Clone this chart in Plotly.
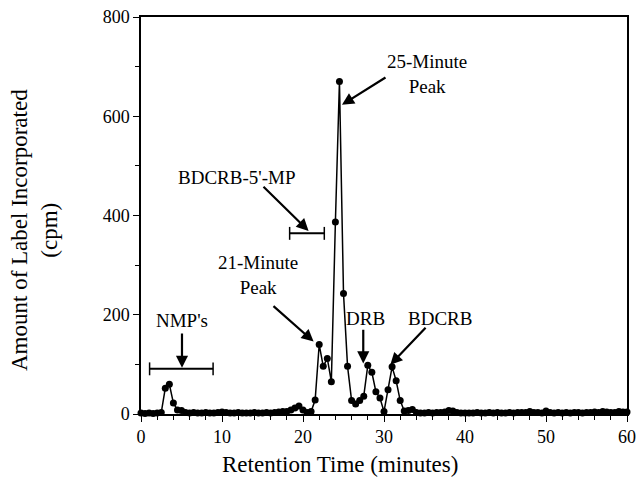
import plotly.graph_objects as go

times = [0, 0.5, 1, 1.5, 2, 2.5, 3, 3.5, 4, 4.5, 5, 5.5, 6, 6.5, 7, 7.5, 8, 8.5, 9, 9.5,
         10, 10.5, 11, 11.5, 12, 12.5, 13, 13.5, 14, 14.5, 15, 15.5, 16, 16.5, 17, 17.5, 18, 18.5, 19, 19.5,
         20, 20.5, 21, 21.5, 22, 22.5, 23, 23.5, 24, 24.5, 25, 25.5, 26, 26.5, 27, 27.5, 28, 28.5, 29, 29.5,
         30, 30.5, 31, 31.5, 32, 32.5, 33, 33.5, 34, 34.5, 35, 35.5, 36, 36.5, 37, 37.5, 38, 38.5, 39, 39.5,
         40, 40.5, 41, 41.5, 42, 42.5, 43, 43.5, 44, 44.5, 45, 45.5, 46, 46.5, 47, 47.5, 48, 48.5, 49, 49.5,
         50, 50.5, 51, 51.5, 52, 52.5, 53, 53.5, 54, 54.5, 55, 55.5, 56, 56.5, 57, 57.5, 58, 58.5, 59, 59.5, 60]

cpm = [2, 1, 2, 1, 2, 3, 52, 60, 22, 8, 7, 3, 2, 3, 2, 2, 3, 2, 2, 3,
       4, 3, 2, 2, 3, 2, 2, 2, 3, 2, 2, 3, 2, 3, 4, 5, 5, 8, 12, 16,
       8, 3, 5, 28, 140, 96, 112, 65, 387, 670, 243, 96, 27, 20, 27, 36, 98, 84, 45, 32,
       5, 49, 95, 67, 27, 6, 7, 9, 3, 2, 2, 3, 2, 3, 3, 4, 7, 6, 3, 2,
       2, 2, 2, 3, 2, 2, 3, 2, 3, 2, 2, 3, 2, 3, 3, 3, 5, 3, 3, 2,
       6, 3, 2, 3, 2, 3, 2, 3, 3, 2, 3, 3, 4, 3, 5, 4, 3, 3, 5, 4, 4]

x_ticks = [0, 10, 20, 30, 40, 50, 60]
y_ticks = [0, 200, 400, 600, 800]

x_title = "Retention Time (minutes)"
y_title = "Amount of Label Incorporated<br>(cpm)"

# labels: (text, x, y)
labels = [
    ("NMP's", 5.0, 189),
    ("BDCRB-5'-MP", 11.8, 476),
    ("21-Minute<br>Peak", 14.5, 280),
    ("25-Minute<br>Peak", 35.3, 685),
    ("DRB", 27.75, 193),
    ("BDCRB", 36.9, 193),
]
# arrows: (tail_x, tail_y, tip_x, tip_y)
arrows = [
    (5.06, 165, 5.06, 93),
    (14.94, 461, 20.69, 369),
    (16.17, 220, 21.31, 146),
    (30.37, 680, 24.81, 623),
    (27.44, 173, 27.44, 102),
    (35.31, 177, 30.78, 99),
]
# brackets: (x0, x1, y)
brackets = [(1.06, 8.9, 91), (18.35, 22.63, 364)]

FONT = "Liberation Serif, Times New Roman, DejaVu Serif, serif"

fig = go.Figure()
fig.add_trace(go.Scatter(
    x=times, y=cpm, mode="lines+markers",
    line=dict(color="black", width=1.5),
    marker=dict(color="black", size=7),
    cliponaxis=False, showlegend=False,
))

annotations = []
for text, x, y in labels:
    annotations.append(dict(x=x, y=y, xref="x", yref="y", text=text, showarrow=False,
                            font=dict(family=FONT, size=19, color="black"), align="center"))
for tx, ty, hx, hy in arrows:
    annotations.append(dict(x=hx, y=hy, ax=tx, ay=ty, xref="x", yref="y", axref="x", ayref="y",
                            text="", showarrow=True, arrowhead=2, arrowsize=1.1, arrowwidth=2.2,
                            arrowcolor="black"))
# axis titles
annotations.append(dict(x=(340 - 141) / 486, y=(414 - 464) / 397, xref="paper", yref="paper",
                        text=x_title, showarrow=False, xanchor="center", yanchor="middle",
                        font=dict(family=FONT, size=23, color="black")))
annotations.append(dict(x=(35 - 141) / 486, y=(414 - 230) / 397, xref="paper", yref="paper",
                        text=y_title, showarrow=False, xanchor="center", yanchor="middle",
                        textangle=-90, font=dict(family=FONT, size=23, color="black")))

shapes = []
for x0, x1, y in brackets:
    shapes.append(dict(type="line", xref="x", yref="y", x0=x0, x1=x1, y0=y, y1=y,
                       line=dict(color="black", width=2)))
    for xe in (x0, x1):
        shapes.append(dict(type="line", xref="x", yref="y", x0=xe, x1=xe, y0=y - 13, y1=y + 13,
                           line=dict(color="black", width=1.5)))

axis_common = dict(showline=True, linecolor="black", linewidth=1.5, mirror=True,
                   ticks="outside", tickcolor="black", ticklen=6, tickwidth=1.2,
                   showgrid=False, zeroline=False, automargin=False,
                   tickfont=dict(family=FONT, size=18, color="black"))

fig.update_layout(
    width=637, height=484,
    margin=dict(l=141, r=10, t=17, b=70),
    plot_bgcolor="white", paper_bgcolor="white",
    xaxis=dict(range=[0, 60], tickvals=x_ticks,
               minor=dict(dtick=2, ticks="outside", ticklen=4, tickcolor="black", tickwidth=1),
               **axis_common),
    yaxis=dict(range=[0, 800], tickvals=y_ticks,
               minor=dict(dtick=100, ticks="outside", ticklen=4, tickcolor="black", tickwidth=1),
               **axis_common),
    annotations=annotations,
    shapes=shapes,
)

fig.write_html("out.html", config={"displayModeBar": False},
               post_script="document.body.style.margin='0px';document.body.style.overflow='hidden';")
